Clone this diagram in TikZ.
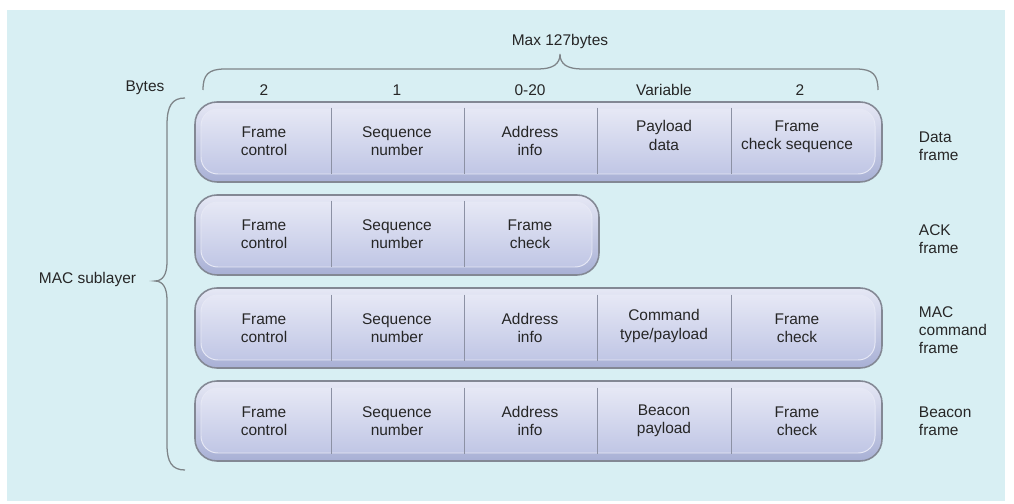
\documentclass[tikz,border=0pt]{standalone}
\usepackage{fontspec}
\setmainfont{Liberation Sans}
\usetikzlibrary{positioning}
\definecolor{bgcyan}{HTML}{D8EFF3}
\definecolor{pilltop}{HTML}{E6E8F5}
\definecolor{pillbot}{HTML}{A8B0D5}
\definecolor{bodytop}{HTML}{E6E8F5}
\definecolor{bodybot}{HTML}{C0C6E5}
\definecolor{pillline}{HTML}{838894}
\definecolor{divline}{HTML}{8C91A4}
\definecolor{braceline}{HTML}{7E8488}

\begin{document}
\begin{tikzpicture}[x=0.025cm,y=-0.025cm,
  every node/.style={font=\fontsize{11}{13}\selectfont, text=black!85},
  cell/.style={minimum width=3.325cm, minimum height=1.65cm, inner sep=0pt, align=center},
  raised/.style={text depth=#1},
  side/.style={anchor=west, align=left},
  pill/.style={draw=pillline, line width=1.1pt, rounded corners=0.55cm,
               top color=pilltop, bottom color=pillbot},
  pillbody/.style={draw=white!60!bodybot, line width=0.7pt, rounded corners=0.42cm,
               top color=bodytop, bottom color=bodybot},
  brace/.style={draw=braceline, line width=0.9pt}]

\useasboundingbox (0,0) rectangle (1014,504);
\fill[bgcyan] (7,10) rectangle (1005,501);

% frame outlines
\foreach \yc/\xr in {142/882, 235/599, 328/882, 421/882} {
    \draw[pill] (195,\yc-40) rectangle (\xr,\yc+40);
    \draw[pillbody] (201,\yc-33) rectangle (\xr-7,\yc+32);
}

% field lengths
\node (maxlen) at (560,42) {Max 127bytes};
\node (bytes) at (145,88) {Bytes};
\node (len1) at (264,90) {2};
\node (len2) at (397,90) {1};
\node (len3) at (530,90) {0-20};
\node (len4) at (664,90) {Variable};
\node (len5) at (800,90) {2};

% data frame
\node[cell] (dat1) at (264,141) {Frame\\control};
\node[cell] (dat2) at (397,141) {Sequence\\number};
\node[cell] (dat3) at (530,141) {Address\\info};
\node[cell, raised=8pt] (dat4) at (664,141) {Payload\\data};
\node[cell, raised=8pt] (dat5) at (797,141) {Frame\\check sequence};

% ack frame
\node[cell] (ack1) at (264,234) {Frame\\control};
\node[cell] (ack2) at (397,234) {Sequence\\number};
\node[cell] (ack3) at (530,234) {Frame\\check};

% mac command frame
\node[cell] (cmd1) at (264,328) {Frame\\control};
\node[cell] (cmd2) at (397,328) {Sequence\\number};
\node[cell] (cmd3) at (530,328) {Address\\info};
\node[cell, raised=5pt] (cmd4) at (664,328) {Command\\type/payload};
\node[cell] (cmd5) at (797,328) {Frame\\check};

% beacon frame
\node[cell] (bcn1) at (264,421) {Frame\\control};
\node[cell] (bcn2) at (397,421) {Sequence\\number};
\node[cell] (bcn3) at (530,421) {Address\\info};
\node[cell] (bcn4) at (664,421) {Beacon\\payload};
\node[cell] (bcn5) at (797,421) {Frame\\check};

\foreach \r in {dat,cmd,bcn} {
    \foreach \c in {1,2,3,4}
        \draw[divline] (\r\c.north east) -- (\r\c.south east);
}
\foreach \c in {1,2}
    \draw[divline] (ack\c.north east) -- (ack\c.south east);

% frame names
\node[side] (datname) at (914,146) {Data\\frame};
\node[side] (ackname) at (914,239) {ACK\\frame};
\node[side] (cmdname) at (914,330) {MAC\\command\\frame};
\node[side] (bcnname) at (914,421) {Beacon\\frame};

\node[anchor=east] (mac) at (141,280) {MAC sublayer};

% braces
\draw[brace] (203,90) .. controls (203,75) and (208,69) .. (225,69) -- (538,69)
    .. controls (553,69) and (560,64) .. (560,54)
    .. controls (560,64) and (567,69) .. (582,69) -- (856,69)
    .. controls (873,69) and (878,75) .. (878,90);
\draw[brace] (185,98) .. controls (172,98) and (167,106) .. (167,125) -- (167,262)
    .. controls (167,274) and (163,281) .. (155,281)
    .. controls (163,281) and (167,288) .. (167,300) -- (167,445)
    .. controls (167,462) and (172,470) .. (185,470);
\end{tikzpicture}
\end{document}
